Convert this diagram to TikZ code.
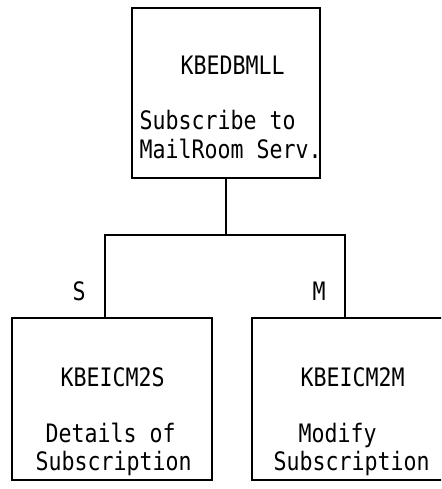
\documentclass[tikz,border=0pt]{standalone}
\usepackage{fontspec}
\newfontfamily\boxfont[FakeStretch=0.85]{DejaVu Sans Mono}
\begin{document}
\begin{tikzpicture}[x=1pt,y=-1pt,line width=1.3pt,
  modbox/.style={draw,rectangle,inner sep=0pt},
  txt/.style={anchor=base west,inner sep=0pt,font=\boxfont\fontsize{25.4}{28}\selectfont}]

\useasboundingbox (0,0) rectangle (441,489);
\clip (0,0) rectangle (441,489);

\node[modbox,minimum width=188pt,minimum height=170pt] (kbedbmll) at (226,93) {};
\node[modbox,minimum width=200pt,minimum height=162pt] (kbeicm2s) at (112,399) {};
\node[modbox,minimum width=200pt,minimum height=162pt] (kbeicm2m) at (352,399) {};

\coordinate (split) at (226,235);

\draw (kbedbmll.south) -- (split);
\draw (split) -| ([xshift=-7pt]kbeicm2s.north);
\draw (split) -| ([xshift=-7pt]kbeicm2m.north);

\node[txt] (t1) at (180,75) {KBEDBMLL};
\node[txt] (t2) at (139,130) {Subscribe to};
\node[txt] (t3) at (139,158) {MailRoom Serv.};

\node[txt] (s) at (72,300) {S};
\node[txt] (m) at (312,300) {M};

\node[txt] (t4) at (60,386) {KBEICM2S};
\node[txt] (t5) at (45,442) {Details of};
\node[txt] (t6) at (35,470) {Subscription};

\node[txt] (t7) at (300,386) {KBEICM2M};
\node[txt] (t8) at (298,442) {Modify};
\node[txt] (t9) at (273,470) {Subscription};

\end{tikzpicture}
\end{document}
